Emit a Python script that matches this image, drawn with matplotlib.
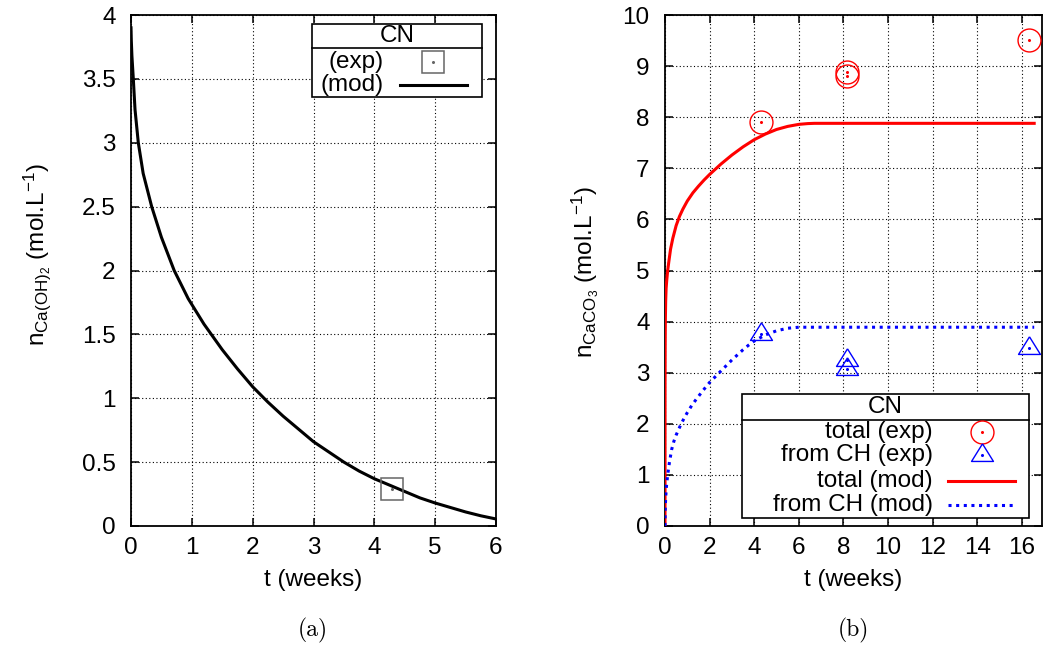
import matplotlib
matplotlib.use('Agg')
import matplotlib.pyplot as plt
from matplotlib.ticker import FuncFormatter, MultipleLocator
from matplotlib.patches import Rectangle

plt.rcParams['font.family'] = ['Liberation Sans', 'DejaVu Sans']
plt.rcParams['mathtext.fontset'] = 'custom'
plt.rcParams['mathtext.rm'] = 'Liberation Sans'
plt.rcParams['mathtext.it'] = 'Liberation Sans'
plt.rcParams['mathtext.sf'] = 'Liberation Sans'

# ---------------- data ----------------
# (a) Ca(OH)2 content, model curve and experiment
t_ch_mod = [0, 0.005, 0.015, 0.038, 0.066, 0.12, 0.2, 0.34, 0.5, 0.71, 0.94, 1.2, 1.5, 1.75,
            2.0, 2.25, 2.5, 2.75, 3.0, 3.25, 3.5, 3.75, 4.0, 4.25, 4.5, 4.75, 5.0, 5.25, 5.5,
            5.75, 6.0]
ch_mod = [3.9, 3.8, 3.68, 3.5, 3.26, 3.0, 2.76, 2.5, 2.26, 2.0, 1.78, 1.58, 1.38, 1.23,
          1.09, 0.97, 0.86, 0.76, 0.66, 0.58, 0.5, 0.43, 0.37, 0.32, 0.27, 0.22, 0.18, 0.145,
          0.11, 0.08, 0.055]
t_ch_exp = [4.29]
ch_exp = [0.287]

# (b) CaCO3 content
t_cc_mod = [0, 0.003, 0.008, 0.015, 0.03, 0.05, 0.08, 0.12, 0.18, 0.25, 0.35, 0.5, 0.65, 0.8,
            1.0, 1.25, 1.5, 1.75, 2.0, 2.5, 3.0, 3.5, 4.0, 4.5, 5.0,
            5.5, 6.0, 6.4, 6.7, 16.55]
cc_total_mod = [0, 2.8, 3.5, 4.0, 4.4, 4.65, 4.82, 5.0, 5.2, 5.42, 5.63, 5.88, 6.06, 6.2,
                6.36, 6.52, 6.65, 6.77, 6.88, 7.08, 7.26, 7.42, 7.56, 7.67, 7.76,
                7.82, 7.86, 7.875, 7.88, 7.88]
t_cc_ch_mod = [0, 0.005, 0.01, 0.02, 0.04, 0.07, 0.12, 0.2, 0.3, 0.4, 0.5, 0.62, 0.75, 0.87,
               1.0, 1.2, 1.4, 1.7, 2.0, 2.25, 2.5, 2.75, 3.0, 3.25, 3.5, 3.75, 4.0, 4.5, 5.0,
               5.5, 6.0, 16.55]
cc_ch_mod = [0, 0.2, 0.32, 0.45, 0.62, 0.8, 1.0, 1.25, 1.5, 1.66, 1.78, 1.9, 2.02, 2.12,
             2.22, 2.36, 2.48, 2.65, 2.81, 2.92, 3.03, 3.14, 3.25, 3.35, 3.45, 3.54, 3.62,
             3.74, 3.82, 3.87, 3.89, 3.89]
t_cc_exp = [4.29, 8.15, 8.15, 16.31]
cc_total_exp = [7.90, 8.88, 8.81, 9.52]
t_cc_ch_exp = [4.29, 8.18, 8.18, 16.31]
cc_ch_exp = [3.76, 3.25, 3.08, 3.48]

legend_title = 'CN'
left_labels = ['(exp)', '(mod)']
right_labels = ['total (exp)', 'from CH (exp)', 'total (mod)', 'from CH (mod)']
xlabel = 't (weeks)'
ylabel_a = r'$\mathregular{n_{Ca(OH)_2}}$ (mol.L$^{\mathregular{-1}}$)'
ylabel_b = r'$\mathregular{n_{CaCO_3}}$ (mol.L$^{\mathregular{-1}}$)'

FS = 17.5
RED = '#ff0000'
BLUE = '#0000ff'
GRAY = '#666666'
TRI = [(0, 1.0), (-0.94, -0.51), (0.94, -0.51), (0, 1.0)]

fig = plt.figure(figsize=(10.45, 6.46), dpi=100)
W, H = 1045, 646
axL = fig.add_axes([131 / W, (H - 526) / H, 365 / W, 511 / H])
axR = fig.add_axes([665 / W, (H - 526) / H, 377 / W, 511 / H])


def style(ax):
    ax.grid(True, color='black', linestyle=(0, (1, 2.2)), linewidth=0.8)
    ax.set_axisbelow(True)
    ax.tick_params(direction='in', length=6, width=1.1, top=True, right=True, labelsize=FS)
    ax.tick_params(axis='x', pad=8)
    ax.tick_params(axis='y', pad=11)
    for s in ax.spines.values():
        s.set_linewidth(1.3)
    ax.yaxis.set_major_formatter(FuncFormatter(lambda v, p: f'{v:g}'))
    ax.xaxis.set_major_formatter(FuncFormatter(lambda v, p: f'{v:g}'))


def legend_box(ax, x0, x1, y0, y1, ysep, ytitle):
    ax.add_patch(Rectangle((x0, y0), x1 - x0, y1 - y0, transform=ax.transAxes,
                           facecolor='white', edgecolor='black', lw=1.2, zorder=5, clip_on=False))
    ax.plot([x0, x1], [ysep, ysep], transform=ax.transAxes, color='black', lw=1.2,
            zorder=6, clip_on=False)
    ax.text((x0 + x1) / 2, ytitle, legend_title, transform=ax.transAxes, ha='center',
            va='center', fontsize=FS, zorder=7)


def legend_text(ax, x, y, s):
    ax.text(x, y, s, transform=ax.transAxes, ha='right', va='center', fontsize=FS, zorder=7)


# ---------------- (a) ----------------
style(axL)
axL.plot(t_ch_mod, ch_mod, color='black', lw=2.2, zorder=3)
axL.plot(t_ch_exp, ch_exp, linestyle='none', marker='s', ms=16.5, mfc='none', mec=GRAY,
         mew=1.1, zorder=4)
axL.plot(t_ch_exp, ch_exp, linestyle='none', marker='o', ms=1.2, color=GRAY, zorder=4)
axL.set_xlim(0, 6)
axL.set_ylim(0, 4)
axL.xaxis.set_major_locator(MultipleLocator(1))
axL.yaxis.set_major_locator(MultipleLocator(0.5))

legend_box(axL, 0.497, 0.961, 0.840, 0.982, 0.935, 0.959)
legend_text(axL, 0.691, 0.909, left_labels[0])
legend_text(axL, 0.691, 0.863, left_labels[1])
axL.plot([0.828], [0.909], transform=axL.transAxes, marker='s', ms=16, mfc='none', mec=GRAY,
         mew=1.1, zorder=7, clip_on=False)
axL.plot([0.828], [0.909], transform=axL.transAxes, marker='o', ms=1.2, color=GRAY,
         zorder=7, clip_on=False)
axL.plot([0.737, 0.920], [0.863, 0.863], transform=axL.transAxes, color='black', lw=2.2,
         zorder=7, clip_on=False)

# ---------------- (b) ----------------
style(axR)
axR.plot(t_cc_mod, cc_total_mod, color=RED, lw=2.2, zorder=3)
axR.plot(t_cc_ch_mod, cc_ch_mod, color=BLUE, lw=2.2, linestyle=(0, (1, 1.5)), zorder=3)
axR.plot(t_cc_exp, cc_total_exp, linestyle='none', marker='o', ms=16.5, mfc='none', mec=RED,
         mew=1.0, zorder=4)
axR.plot(t_cc_exp, cc_total_exp, linestyle='none', marker='o', ms=1.2, color=RED, zorder=4)
axR.plot(t_cc_ch_exp, cc_ch_exp, linestyle='none', marker=TRI, ms=16.8, mfc='none', mec=BLUE,
         mew=1.0, zorder=4)
axR.plot(t_cc_ch_exp, cc_ch_exp, linestyle='none', marker='o', ms=1.2, color=BLUE, zorder=4)
axR.set_xlim(0, 16.9)
axR.set_ylim(0, 10)
axR.xaxis.set_major_locator(MultipleLocator(2))
axR.yaxis.set_major_locator(MultipleLocator(1))

legend_box(axR, 0.205, 0.966, 0.0166, 0.258, 0.207, 0.233)
rows_y = [0.1845, 0.139, 0.0887, 0.041]
for lab, yy in zip(right_labels, rows_y):
    legend_text(axR, 0.710, yy, lab)
axR.plot([0.840], [rows_y[0]], transform=axR.transAxes, marker='o', ms=16.5, mfc='none',
         mec=RED, mew=1.0, zorder=7, clip_on=False)
axR.plot([0.840], [rows_y[0]], transform=axR.transAxes, marker='o', ms=1.2, color=RED,
         zorder=7, clip_on=False)
axR.plot([0.840], [rows_y[1]], transform=axR.transAxes, marker=TRI, ms=16.8, mfc='none',
         mec=BLUE, mew=1.0, zorder=7, clip_on=False)
axR.plot([0.840], [rows_y[1]], transform=axR.transAxes, marker='o', ms=1.2, color=BLUE,
         zorder=7, clip_on=False)
axR.plot([0.751, 0.928], [rows_y[2], rows_y[2]], transform=axR.transAxes, color=RED, lw=2.2,
         zorder=7, clip_on=False)
axR.plot([0.751, 0.928], [rows_y[3], rows_y[3]], transform=axR.transAxes, color=BLUE, lw=2.2,
         linestyle=(0, (1, 1.5)), zorder=7, clip_on=False)

# ---------------- labels ----------------
fig.text(313 / W, (H - 580) / H, xlabel, ha='center', va='center', fontsize=FS)
fig.text(853 / W, (H - 580) / H, xlabel, ha='center', va='center', fontsize=FS)
fig.text(37 / W, (H - 255) / H, ylabel_a, ha='center', va='center', rotation=90, fontsize=FS)
fig.text(585 / W, (H - 272) / H, ylabel_b, ha='center', va='center', rotation=90, fontsize=FS)
fig.text(313 / W, (H - 630) / H, '(a)', ha='center', va='center', fontsize=17,
         family='cmr10')
fig.text(853 / W, (H - 630) / H, '(b)', ha='center', va='center', fontsize=17,
         family='cmr10')

fig.savefig('out.png', dpi=100)
